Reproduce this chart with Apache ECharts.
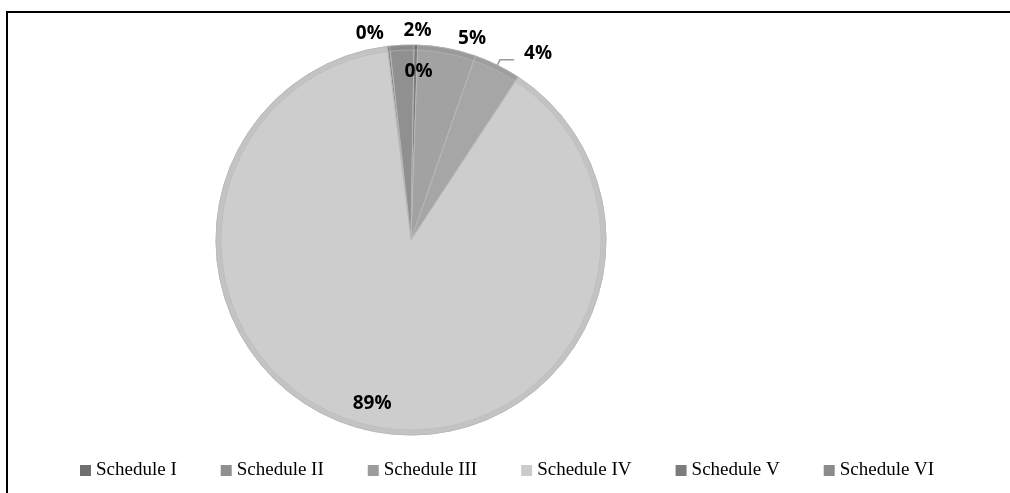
<!DOCTYPE html>
<html>
<head>
<meta charset="utf-8">
<script src="https://cdn.jsdelivr.net/npm/echarts@6/dist/echarts.min.js"></script>
<style>
  html, body { margin: 0; padding: 0; background: #fff; }
  #chart { width: 1010px; height: 493px; }
</style>
</head>
<body>
<div id="chart"></div>
<script>
// Share of items by schedule (percent)
const legendOrder = ['Schedule I', 'Schedule II', 'Schedule III', 'Schedule IV', 'Schedule V', 'Schedule VI'];
// Drawing order around the pie, clockwise from the first slice
const sliceNames = ['Schedule V', 'Schedule VI', 'Schedule I', 'Schedule II', 'Schedule III', 'Schedule IV'];
const sliceValues = [0.2, 2.0, 0.3, 4.8, 3.9, 88.8];

// Legend swatches, slice fill, and the slightly darker bevel ring along the rim
const colors = {
  'Schedule I': '#6f6f6f',
  'Schedule II': '#8f8f8f',
  'Schedule III': '#9c9c9c',
  'Schedule IV': '#cbcbcb',
  'Schedule V': '#7c7c7c',
  'Schedule VI': '#8b8b8b'
};
const fillColors = {
  'Schedule I': '#7a7a7a',
  'Schedule II': '#a2a2a2',
  'Schedule III': '#a6a6a6',
  'Schedule IV': '#cdcdcd',
  'Schedule V': '#858585',
  'Schedule VI': '#909090'
};
const rimColors = {
  'Schedule I': '#707070',
  'Schedule II': '#9a9a9a',
  'Schedule III': '#9e9e9e',
  'Schedule IV': '#c3c3c3',
  'Schedule V': '#7c7c7c',
  'Schedule VI': '#8a8a8a'
};

// Label placement per slice
const labelStyles = {
  'Schedule V': { position: 'outside', offset: [15, -7] },
  'Schedule VI': { position: 'outside', offset: [49, -9] },
  'Schedule I': { position: 'inside', offset: [5, -68] },
  'Schedule II': { position: 'outside', offset: [-9, -4] },
  'Schedule III': { position: 'outside', offset: [5, -6] },
  'Schedule IV': { position: 'inside', offset: [-16, 66] }
};

const chart = echarts.init(document.getElementById('chart'), null, { renderer: 'canvas' });

const mainData = sliceNames.map((name, i) => {
  const ls = labelStyles[name];
  const showLine = name === 'Schedule III';
  return {
    name: name,
    value: sliceValues[i],
    itemStyle: { color: fillColors[name] },
    label: { position: ls.position, offset: ls.offset },
    labelLine: {
      show: showLine,
      length: 6,
      length2: 14,
      lineStyle: { color: '#9a9a9a', width: 1.5 }
    }
  };
});

const rimData = sliceNames.map((name, i) => ({
  name: name,
  value: sliceValues[i],
  itemStyle: { color: rimColors[name] }
}));

chart.setOption({
  backgroundColor: '#ffffff',
  animation: false,
  color: legendOrder.map(n => colors[n]),
  graphic: [{
    type: 'rect',
    shape: { x: 7, y: 12, width: 1100, height: 600 },
    style: { fill: 'none', stroke: '#000', lineWidth: 2 },
    silent: true
  }],
  legend: {
    data: legendOrder.map(n => ({ name: n, itemStyle: { color: colors[n], borderWidth: 0 } })),
    bottom: 8,
    left: 75,
    itemWidth: 11,
    itemHeight: 11,
    itemGap: 44,
    icon: 'rect',
    textStyle: {
      fontFamily: 'Liberation Serif',
      fontSize: 19,
      color: '#000'
    }
  },
  series: [{
    type: 'pie',
    center: [411, 240],
    radius: 195,
    startAngle: 97,
    clockwise: true,
    percentPrecision: 0,
    avoidLabelOverlap: false,
    itemStyle: {
      borderColor: '#b8b8b8',
      borderWidth: 1
    },
    label: {
      show: true,
      formatter: '{d}%',
      fontFamily: 'Open Sans',
      fontWeight: 'bold',
      fontSize: 19,
      color: '#000'
    },
    emphasis: { disabled: true },
    data: mainData
  }, {
    type: 'pie',
    center: [411, 240],
    radius: [190, 195],
    startAngle: 97,
    clockwise: true,
    silent: true,
    label: { show: false },
    labelLine: { show: false },
    itemStyle: {
      borderColor: '#b8b8b8',
      borderWidth: 0.6
    },
    emphasis: { disabled: true },
    data: rimData
  }]
});
</script>
</body>
</html>
